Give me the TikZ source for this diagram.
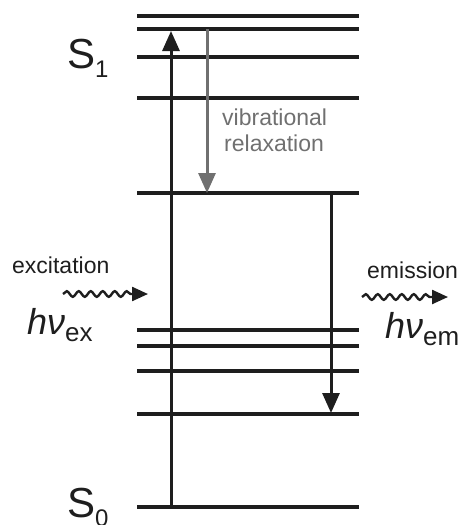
\documentclass[tikz,border=0pt]{standalone}
\usepackage{fontspec}
\setmainfont{Liberation Sans}
\usetikzlibrary{arrows.meta,decorations.pathmorphing}
\definecolor{ink}{HTML}{1E1E1E}
\definecolor{relax}{HTML}{707070}
\begin{document}
\begin{tikzpicture}[x=1pt,y=-1pt,
  level/.style={draw=ink,line width=3.2pt},
  trans/.style={draw=ink,line width=3pt,-{Triangle[length=20pt,width=17pt]}},
  relaxarrow/.style={draw=relax,line width=3pt,-{Triangle[length=20pt,width=17pt]}},
  photon/.style={draw=ink,line width=2.4pt,decorate,decoration={snake,amplitude=2.8pt,segment length=12pt,post length=16pt},-{Triangle[length=16pt,width=14pt]}},
  lbl/.style={inner sep=0pt,text=ink},
  every node/.style={inner sep=0pt}]
\useasboundingbox (0,0) rectangle (459,525);
% levels
\foreach \n/\y in {a/16,b/29,c/57,d/98,e/193,f/330,g/346,h/371,i/414,j/507}{
  \coordinate (L\n l) at (137,\y);
  \coordinate (L\n r) at (359,\y);
  \draw[level] (L\n l) -- (L\n r);
}
% arrow endpoints
\coordinate (exS) at (171,507);
\coordinate (exE) at (171,31);
\coordinate (vrS) at (207,29);
\coordinate (vrE) at (207,193);
\coordinate (emS) at (331,193);
\coordinate (emE) at (331,413);
\draw[trans] (exS) -- (exE);
\draw[relaxarrow] (vrS) -- (vrE);
\draw[trans] (emS) -- (emE);
% labels
\node[lbl,anchor=base west,font=\fontsize{42}{42}\selectfont] (S1) at (67,68) {S\raisebox{-9pt}{\fontsize{24}{24}\selectfont 1}};
\node[lbl,anchor=base west,font=\fontsize{42}{42}\selectfont] (S0) at (67,517) {S\raisebox{-9pt}{\fontsize{24}{24}\selectfont 0}};
\node[lbl,anchor=base west,text=relax,font=\fontsize{23}{25}\selectfont] (vib) at (222,125) {vibrational};
\node[lbl,anchor=base west,text=relax,font=\fontsize{23}{25}\selectfont] (rel) at (224,151) {relaxation};
\node[lbl,anchor=base west,font=\fontsize{23}{25}\selectfont] (exc) at (12,273) {excitation};
\node[lbl,anchor=base west,font=\fontsize{23}{25}\selectfont] (emi) at (367,278) {emission};
\node[lbl,anchor=base west,font=\fontsize{36}{36}\selectfont] (hex) at (27,334) {\itshape hν\upshape\raisebox{-7pt}{\fontsize{26}{26}\selectfont ex}};
\node[lbl,anchor=base west,font=\fontsize{36}{36}\selectfont] (hem) at (385,338) {\itshape hν\upshape\raisebox{-7pt}{\fontsize{26}{26}\selectfont em}};
% photons
\coordinate (phexS) at (63,294);
\coordinate (phexE) at (148,294);
\coordinate (phemS) at (362,297);
\coordinate (phemE) at (448,297);
\draw[photon] (phexS) -- (phexE);
\draw[photon] (phemS) -- (phemE);
\end{tikzpicture}
\end{document}
